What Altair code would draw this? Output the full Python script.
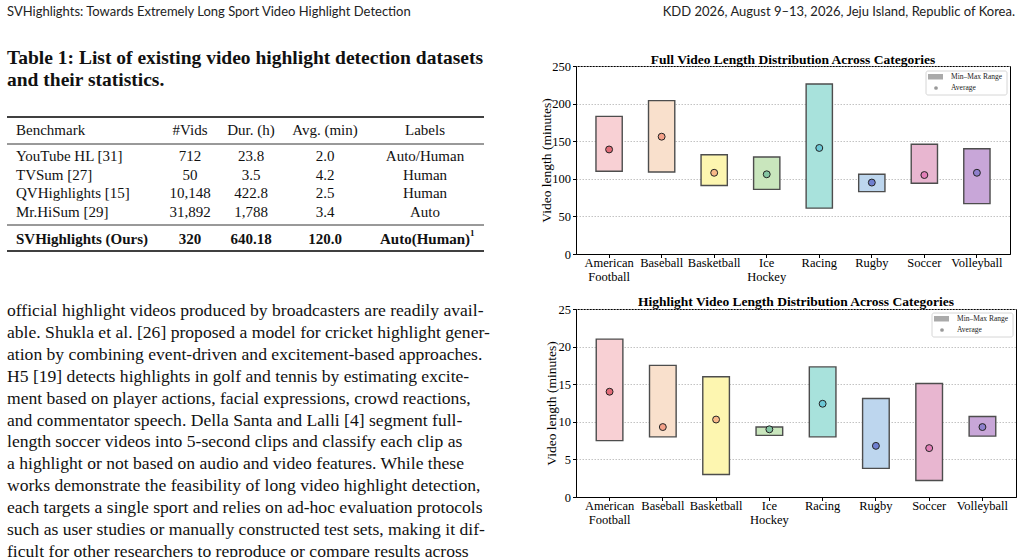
import altair as alt
import pandas as pd

SERIF = "Liberation Serif"
SANS = "Lato"
INK = "#111111"

# ---------------- page text ----------------
head_left = "SVHighlights: Towards Extremely Long Sport Video Highlight Detection"
head_right = "KDD 2026, August 9–13, 2026, Jeju Island, Republic of Korea."

caption_lines = [
    "Table 1: List of existing video highlight detection datasets",
    "and their statistics.",
]

table_header = ["Benchmark", "#Vids", "Dur. (h)", "Avg. (min)", "Labels"]
col_benchmark = ["YouTube HL [31]", "TVSum [27]", "QVHighlights [15]", "Mr.HiSum [29]"]
col_vids = ["712", "50", "10,148", "31,892"]
col_dur = ["23.8", "3.5", "422.8", "1,788"]
col_avg = ["2.0", "4.2", "2.5", "3.4"]
col_labels = ["Auto/Human", "Human", "Human", "Auto"]
ours_row = ["SVHighlights (Ours)", "320", "640.18", "120.0", "Auto(Human)"]
ours_note = "1"

para_lines = [
    "official highlight videos produced by broadcasters are readily avail-",
    "able. Shukla et al. [26] proposed a model for cricket highlight gener-",
    "ation by combining event-driven and excitement-based approaches.",
    "H5 [19] detects highlights in golf and tennis by estimating excite-",
    "ment based on player actions, facial expressions, crowd reactions,",
    "and commentator speech. Della Santa and Lalli [4] segment full-",
    "length soccer videos into 5-second clips and classify each clip as",
    "a highlight or not based on audio and video features. While these",
    "works demonstrate the feasibility of long video highlight detection,",
    "each targets a single sport and relies on ad-hoc evaluation protocols",
    "such as user studies or manually constructed test sets, making it dif-",
    "ficult for other researchers to reproduce or compare results across",
]

# ---------------- chart data (minutes) ----------------
sports = ["American Football", "Baseball", "Basketball", "Ice Hockey",
          "Racing", "Rugby", "Soccer", "Volleyball"]
full_min = [110, 109, 91, 86, 61, 83, 94, 67]
full_max = [183, 204, 132, 129, 226, 106, 146, 140]
full_avg = [139, 156, 108, 106, 141, 95, 105, 108]
hl_min = [7.5, 8.0, 3.0, 8.2, 8.0, 3.8, 2.2, 8.1]
hl_max = [21.0, 17.5, 16.0, 9.3, 17.3, 13.1, 15.1, 10.7]
hl_avg = [14.0, 9.3, 10.3, 9.0, 12.4, 6.8, 6.5, 9.3]

bar_fills = ["#f8d0d4", "#f9e0cc", "#fdf6b0", "#c9e6bd",
             "#a8e2dc", "#bdd6ee", "#e8b6d0", "#c8a6d8"]
dot_fills = ["#e26c78", "#f4a088", "#f8b888", "#84c4a2",
             "#6cc8d6", "#6f80d0", "#e27fb8", "#8e80cc"]

# ---------------- layout (page pixels) ----------------
ROW1_TOP, ROW2_TOP = 66, 309
PLOT_H = 188
P1_LEFT, P1_W = 576, 434
P2_LEFT, P2_W = 570, 440
GAP = 10
NO_FRAME = alt.ViewBackground(stroke="transparent", strokeWidth=0)


def one(text):
    return pd.DataFrame({"text": [text]})


def text_at(text, x, y, size, font=SERIF, weight="normal", align="left", color=INK):
    return alt.Chart(one(text)).mark_text(
        align=align, baseline="middle", font=font, fontSize=size,
        fontWeight=weight, color=color,
    ).encode(x=alt.value(x), y=alt.value(y), text="text:N")


def rule_at(y, width, x0=7, x1=484):
    return alt.Chart(one("")).mark_rule(color="black", strokeWidth=width).encode(
        x=alt.value(x0), x2=alt.value(x1), y=alt.value(y)
    )


# ---------- top-left block: running head, caption, table ----------
o = ROW1_TOP  # vertical origin of this block on the page
left_layers = [
    # page background (white sheet)
    alt.Chart(one("")).mark_rect(fill="white").encode(
        x=alt.value(0), x2=alt.value(1022), y=alt.value(-o), y2=alt.value(557 - o)
    ),
    text_at(head_left, 7, 12 - o, 13, font=SANS, color="#222"),
    text_at(head_right, 1015, 12 - o, 13, font=SANS, align="right", color="#222"),
    text_at(caption_lines[0], 7, 58 - o, 19.5, weight="bold"),
    text_at(caption_lines[1], 7, 80 - o, 19.5, weight="bold"),
    rule_at(117 - o, 1.4),
    rule_at(144 - o, 0.8),
    rule_at(225 - o, 0.8),
    rule_at(251 - o, 1.4),
]

col_x = [16, 190, 251, 325, 425]
col_align = ["left", "center", "center", "center", "center"]
body_cols = [col_benchmark, col_vids, col_dur, col_avg, col_labels]
row_y = alt.Scale(domain=[0, len(col_benchmark) - 1],
                  range=[156 - o, 212 - o], nice=False, zero=False)
for c in range(5):
    left_layers.append(text_at(table_header[c], col_x[c], 130 - o, 15, align=col_align[c]))
    df = pd.DataFrame({"r": list(range(len(body_cols[c]))), "text": body_cols[c]})
    left_layers.append(
        alt.Chart(df).mark_text(align=col_align[c], baseline="middle", font=SERIF,
                                fontSize=15, color=INK)
        .encode(x=alt.value(col_x[c]), y=alt.Y("r:Q", scale=row_y, axis=None), text="text:N")
    )
    left_layers.append(text_at(ours_row[c], col_x[c], 239 - o, 15, weight="bold",
                               align=col_align[c]))
left_layers.append(text_at(ours_note, 470, 233 - o, 9, weight="bold"))

left_top = alt.layer(*left_layers).resolve_scale(x="independent", y="independent").properties(
    width=P1_LEFT - GAP, height=PLOT_H, view=NO_FRAME
)

# ---------- bottom-left block: body paragraph ----------
o2 = ROW2_TOP
para_df = pd.DataFrame({"i": list(range(len(para_lines))), "text": para_lines})
left_bottom = alt.Chart(para_df).mark_text(
    align="left", baseline="middle", font=SERIF, fontSize=17.6, color=INK
).encode(
    x=alt.value(7),
    y=alt.Y("i:Q", scale=alt.Scale(domain=[0, len(para_lines) - 1],
                                    range=[311 - o2, 552 - o2], nice=False, zero=False),
            axis=None),
    text="text:N",
).properties(width=P2_LEFT - GAP, height=PLOT_H, view=NO_FRAME)


# ---------- range charts ----------
def range_chart(lo, hi, avg, ymax, step, width, title, lg, title_x, title_offset):
    df = pd.DataFrame({"sport": sports, "lo": lo, "hi": hi, "avg": avg})
    x = alt.X(
        "sport:N", sort=sports,
        scale=alt.Scale(domain=sports, paddingInner=0.5, paddingOuter=0.38),
        axis=alt.Axis(title=None, labelExpr="split(datum.label, ' ')", labelAngle=0,
                      labelFont=SERIF, labelFontSize=12.5, labelColor="black",
                      labelLineHeight=13.5, labelPadding=-1, tickColor="black",
                      tickSize=3.5, domainColor="black", grid=False),
    )
    yscale = alt.Scale(domain=[0, ymax], nice=False)
    yaxis = alt.Axis(values=list(range(0, ymax + 1, step)), format="d", labelOverlap=False,
                     title="Video length (minutes)", titleFont=SERIF, titleFontSize=13.5,
                     titleFontWeight="normal", titleColor="black",
                     titleX=title_x, titleY=PLOT_H / 2, titleBaseline="middle",
                     titleAngle=270, titleAlign="center",
                     labelFont=SERIF, labelFontSize=12.5, labelColor="black", labelPadding=2,
                     tickColor="black", tickSize=3.5, domainColor="black",
                     grid=True, gridColor="#b4b4b4", gridDash=[1.5, 1.5], gridWidth=0.8)
    bars = alt.Chart(df).mark_bar(stroke="#4d4d4d", strokeWidth=1.4).encode(
        x=x,
        y=alt.Y("lo:Q", scale=yscale, axis=yaxis),
        y2="hi:Q",
        fill=alt.Fill("sport:N", scale=alt.Scale(domain=sports, range=bar_fills), legend=None),
    )
    dots = alt.Chart(df).mark_circle(size=48, stroke="#222", strokeWidth=1, opacity=1).encode(
        x=x,
        y=alt.Y("avg:Q", scale=yscale, axis=yaxis),
        fill=alt.Fill("sport:N", scale=alt.Scale(domain=sports, range=dot_fills), legend=None),
    )
    bx, by = lg
    legend = [
        alt.Chart(one("")).mark_rect(fill="white", stroke="#cccccc", strokeWidth=0.8,
                                     cornerRadius=2).encode(
            x=alt.value(bx), x2=alt.value(bx + 81), y=alt.value(by), y2=alt.value(by + 24)),
        alt.Chart(one("")).mark_rect(fill="#aaaaaa").encode(
            x=alt.value(bx + 2), x2=alt.value(bx + 17), y=alt.value(by + 3), y2=alt.value(by + 8.5)),
        alt.Chart(one("")).mark_circle(fill="#999999", opacity=1, size=14).encode(
            x=alt.value(bx + 10), y=alt.value(by + 17)),
        text_at("Min\u2013Max Range", bx + 25, by + 6, 7.5, color="#222"),
        text_at("Average", bx + 25, by + 17, 7.5, color="#222"),
    ]
    return alt.layer(bars, dots, *legend).resolve_scale(fill="independent").properties(
        width=width, height=PLOT_H,
        title=alt.TitleParams(title, font=SERIF, fontSize=13.5, fontWeight="bold",
                              color="black", anchor="middle", offset=title_offset),
        view=alt.ViewBackground(stroke="black", strokeWidth=1),
    )


full_chart = range_chart(full_min, full_max, full_avg, 250, 50, P1_W,
                         "Full Video Length Distribution Across Categories", (350, 5),
                         546 - P1_LEFT, -6)
hl_chart = range_chart(hl_min, hl_max, hl_avg, 25, 5, P2_W,
                       "Highlight Video Length Distribution Across Categories", (356, 4),
                       545 - P2_LEFT, -5)

# 2x2 grid, cells flowed independently so each row keeps its own column offset
chart = alt.concat(
    left_top, full_chart, left_bottom, hl_chart,
    columns=2,
    spacing={"row": ROW2_TOP - ROW1_TOP - PLOT_H, "column": GAP},
    bounds="flush", align="none", padding=0,
).configure(background="white")

chart.save("out.html", embed_options={"renderer": "svg", "actions": False})
